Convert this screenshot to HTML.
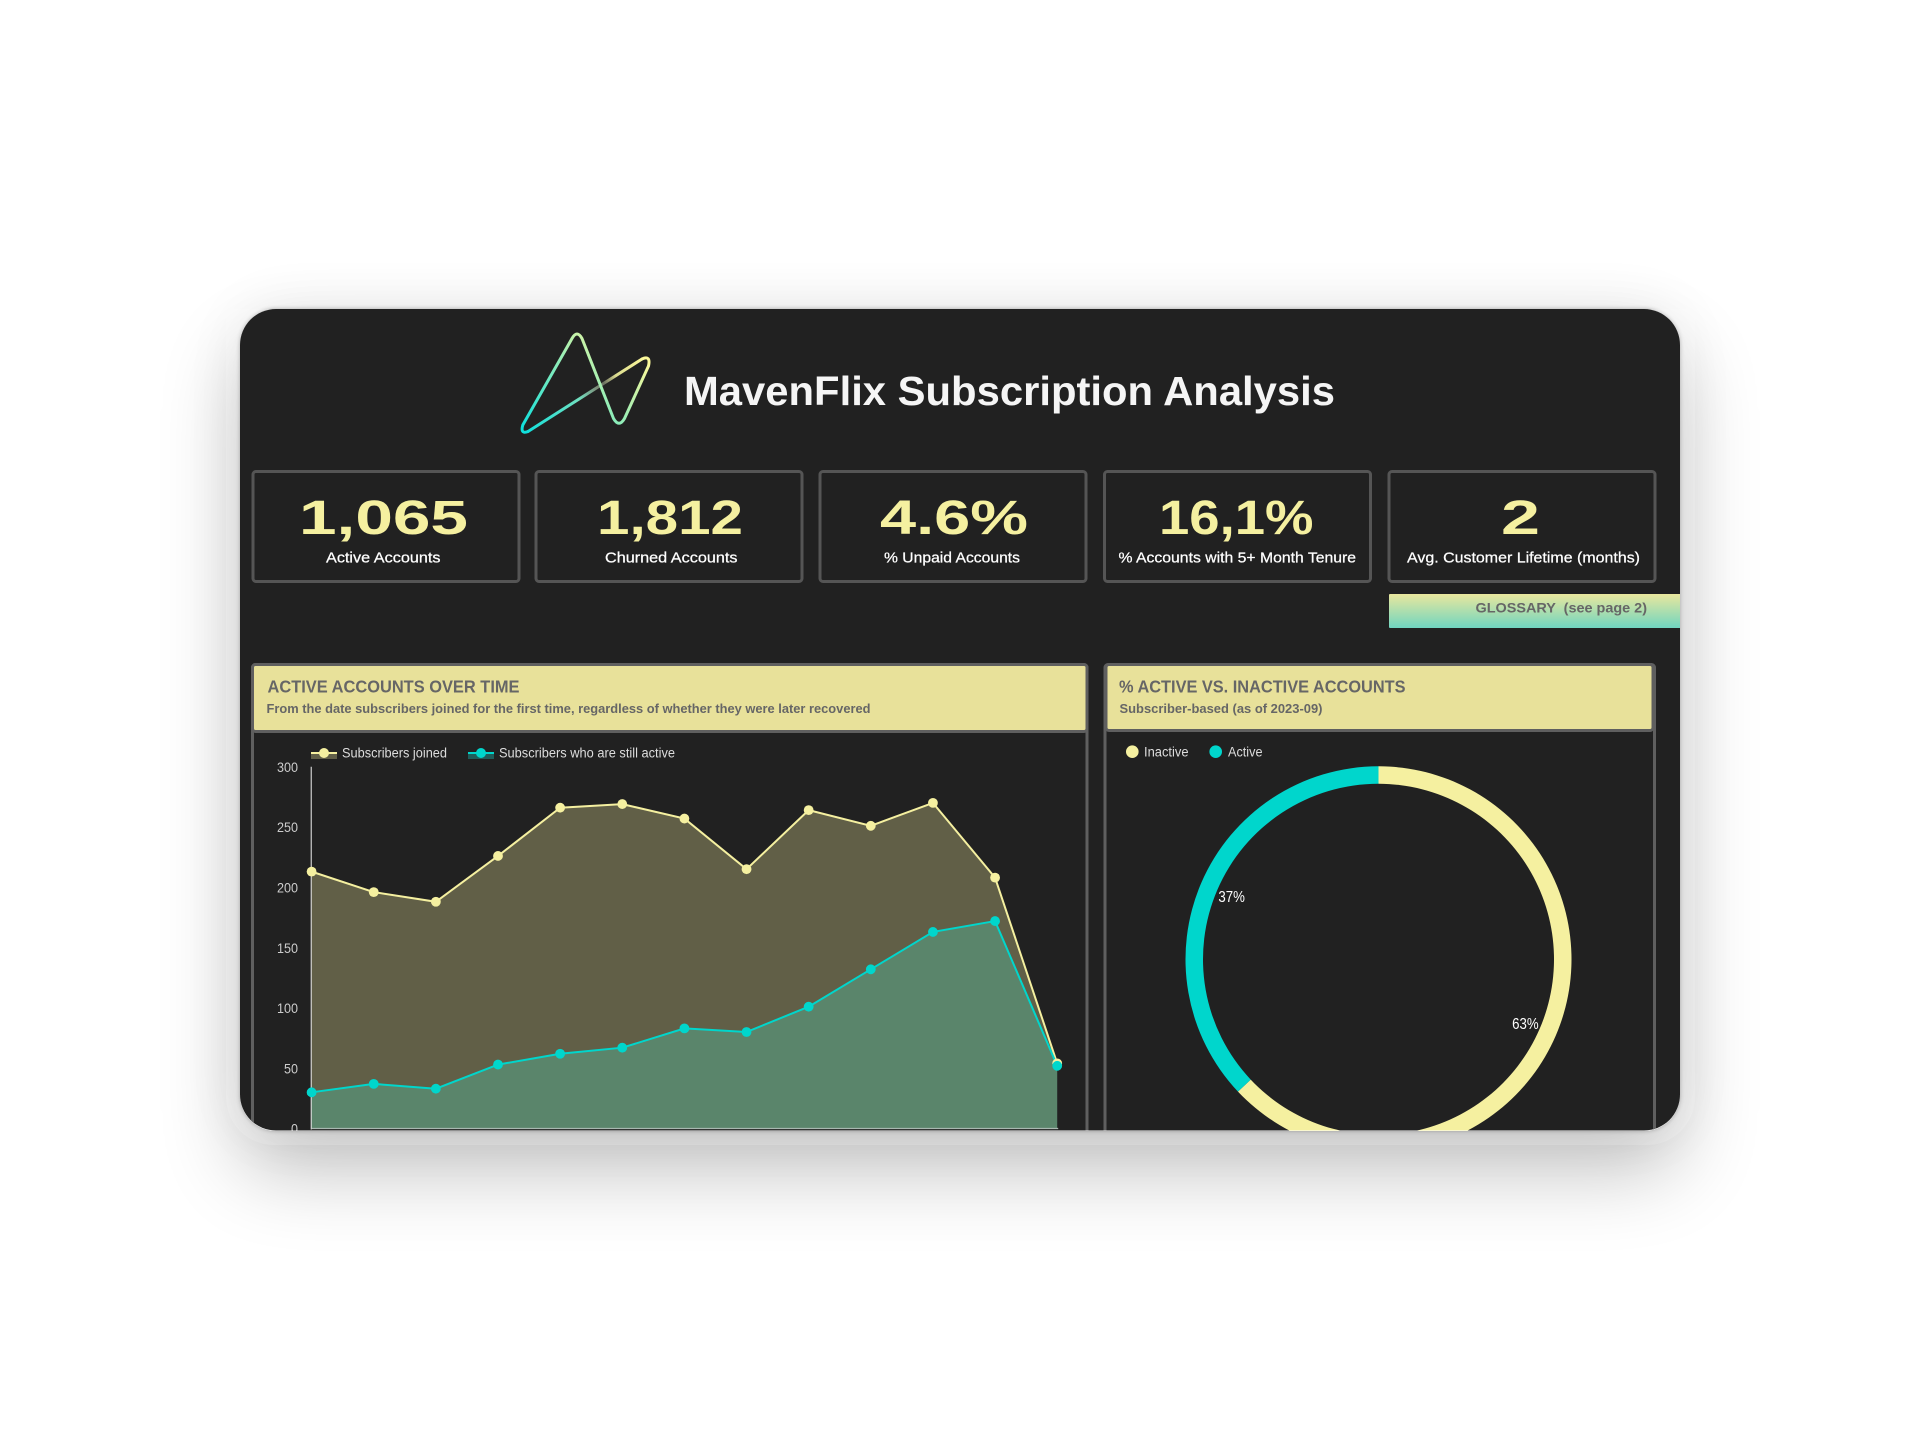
<!DOCTYPE html>
<html lang="en">
<head>
<meta charset="utf-8">
<title>MavenFlix Subscription Analysis</title>
<style>
html,body{margin:0;padding:0;width:1920px;height:1440px;background:#fff;overflow:hidden}
body{position:relative;font-family:"Liberation Sans",sans-serif}
.shadow{position:absolute;left:240px;top:309px;width:1440px;height:822px;border-radius:36px;box-shadow:0 40px 80px rgba(0,0,0,.24),0 0 60px rgba(0,0,0,.07),0 0 4px rgba(0,0,0,.3)}
.frame{position:absolute;left:226px;top:309px;width:1469px;height:836px;border-radius:0 0 48px 48px;background:rgba(255,255,255,.16)}
svg{position:absolute;left:0;top:0}
text{font-family:"Liberation Sans",sans-serif}
.kpi-v{font-size:48px;font-weight:700;fill:#f5f0a0}
.kpi-l{font-size:15px;fill:#fff;stroke:#fff;stroke-width:.25}
.hd{font-size:17.5px;font-weight:700;fill:#666}
.sub{font-size:12.8px;font-weight:700;fill:#666}
.leg{font-size:13.5px;fill:#ddd}
</style>
</head>
<body>
<div class="shadow"></div>
<div class="frame"></div>
<svg id="page" width="1920" height="1440" viewBox="0 0 1920 1440">
  <defs>
    <clipPath id="card-clip"><rect x="240" y="309" width="1440" height="821.5" rx="36" ry="36"/></clipPath>
    <linearGradient id="logo-grad" gradientUnits="userSpaceOnUse" x1="625" y1="340" x2="530" y2="435">
      <stop offset="0" stop-color="#fbf89a"/><stop offset="1" stop-color="#10e0dc"/>
    </linearGradient>
    <linearGradient id="diag-grad" gradientUnits="userSpaceOnUse" x1="525" y1="433" x2="645" y2="358">
      <stop offset="0" stop-color="#10e0dc"/><stop offset=".45" stop-color="#70e0c0"/><stop offset=".6" stop-color="#7d8d78"/><stop offset=".66" stop-color="#6a6f60"/><stop offset=".76" stop-color="#dcdc90"/><stop offset="1" stop-color="#fbf89a"/>
    </linearGradient>
    <linearGradient id="gloss-grad" x1="0" y1="0" x2="0" y2="1">
      <stop offset="0" stop-color="#e9e79d"/><stop offset="1" stop-color="#70d5c0"/>
    </linearGradient>
  </defs>
  <g clip-path="url(#card-clip)">
    <rect x="240" y="309" width="1440" height="822" fill="#212121"/>

    <g fill="none" stroke-width="3" stroke-linejoin="round" stroke-linecap="round">
      <path d="M528 431.5 L642 359" stroke="url(#diag-grad)"/>
      <path d="M642 359 Q651 355 648.5 366 L624.5 418.5 Q619 428 613.5 418.5 L582 338.5 Q577 329.5 572 338.5 L522.8 425 Q520 434.5 528 431.5" stroke="url(#logo-grad)"/>
    </g>
    <text x="684" y="405" font-size="41" font-weight="700" fill="#f5f5f5" textLength="651" lengthAdjust="spacingAndGlyphs">MavenFlix Subscription Analysis</text>

    <g>
      <rect x="253" y="471.5" width="266" height="110" rx="3" fill="none" stroke="#555" stroke-width="3"/>
      <text class="kpi-v" x="299" y="534" textLength="169" lengthAdjust="spacingAndGlyphs">1,065</text>
      <text class="kpi-l" x="326" y="562.5" textLength="114.5" lengthAdjust="spacingAndGlyphs">Active Accounts</text>
    </g>
    <g>
      <rect x="536" y="471.5" width="266" height="110" rx="3" fill="none" stroke="#555" stroke-width="3"/>
      <text class="kpi-v" x="597" y="534" textLength="146" lengthAdjust="spacingAndGlyphs">1,812</text>
      <text class="kpi-l" x="605" y="562.5" textLength="132.5" lengthAdjust="spacingAndGlyphs">Churned Accounts</text>
    </g>
    <g>
      <rect x="820" y="471.5" width="266" height="110" rx="3" fill="none" stroke="#555" stroke-width="3"/>
      <text class="kpi-v" x="880" y="534" textLength="148" lengthAdjust="spacingAndGlyphs">4.6%</text>
      <text class="kpi-l" x="884" y="562.5" textLength="136" lengthAdjust="spacingAndGlyphs">% Unpaid Accounts</text>
    </g>
    <g>
      <rect x="1104.5" y="471.5" width="266" height="110" rx="3" fill="none" stroke="#555" stroke-width="3"/>
      <text class="kpi-v" x="1159" y="534" textLength="154.5" lengthAdjust="spacingAndGlyphs">16,1%</text>
      <text class="kpi-l" x="1118.5" y="562.5" textLength="237.5" lengthAdjust="spacingAndGlyphs">% Accounts with 5+ Month Tenure</text>
    </g>
    <g>
      <rect x="1389" y="471.5" width="266" height="110" rx="3" fill="none" stroke="#555" stroke-width="3"/>
      <text class="kpi-v" x="1501" y="534" textLength="39" lengthAdjust="spacingAndGlyphs">2</text>
      <text class="kpi-l" x="1407" y="562.5" textLength="233" lengthAdjust="spacingAndGlyphs">Avg. Customer Lifetime (months)</text>
    </g>

    <g>
      <rect x="1389" y="594" width="295" height="34" rx="1" fill="url(#gloss-grad)"/>
      <text x="1475.5" y="612.5" font-size="13.7" font-weight="700" fill="#666" textLength="171.5" lengthAdjust="spacingAndGlyphs" xml:space="preserve">GLOSSARY  (see page 2)</text>
    </g>

    <g>
      <rect x="252.5" y="664.5" width="834.5" height="600" rx="3" fill="none" stroke="#5f5f5f" stroke-width="3"/>
      <rect x="252.5" y="664.5" width="834.5" height="67" rx="3" fill="#e8e19a" stroke="#5f5f5f" stroke-width="3"/>
      <text class="hd" x="267.5" y="692.5" textLength="252" lengthAdjust="spacingAndGlyphs">ACTIVE ACCOUNTS OVER TIME</text>
      <text class="sub" x="266.5" y="713" textLength="604" lengthAdjust="spacingAndGlyphs">From the date subscribers joined for the first time, regardless of whether they were later recovered</text>
    </g>
    <g>
      <rect x="1105" y="664.5" width="549.5" height="600" rx="3" fill="none" stroke="#5f5f5f" stroke-width="3"/>
      <rect x="1106" y="664.5" width="547" height="66" rx="3" fill="#e8e19a" stroke="#5f5f5f" stroke-width="3"/>
      <text class="hd" x="1119" y="692.5" textLength="286.5" lengthAdjust="spacingAndGlyphs">% ACTIVE VS. INACTIVE ACCOUNTS</text>
      <text class="sub" x="1119.5" y="713" textLength="203" lengthAdjust="spacingAndGlyphs">Subscriber-based (as of 2023-09)</text>
    </g>

    <g>
      <g>
        <g>
          <rect x="311" y="753" width="26" height="6" fill="#615f48"/>
          <line x1="311" x2="337" y1="753" y2="753" stroke="#f5f0a0" stroke-width="2"/>
          <circle cx="324" cy="753" r="5" fill="#f5f0a0"/>
          <text class="leg" x="342" y="757.5" textLength="105" lengthAdjust="spacingAndGlyphs">Subscribers joined</text>
        </g>
        <g>
          <rect x="468" y="753" width="26" height="6" fill="#1f5d5a"/>
          <line x1="468" x2="494" y1="753" y2="753" stroke="#00d6cc" stroke-width="2"/>
          <circle cx="481" cy="753" r="5" fill="#00d6cc"/>
          <text class="leg" x="499" y="757.5" textLength="176" lengthAdjust="spacingAndGlyphs">Subscribers who are still active</text>
        </g>
      </g>
      <g id="area-plot"></g>
    </g>

    <g>
      <g>
        <g>
          <circle cx="1132.3" cy="751.7" r="6.3" fill="#f5f0a0"/>
          <text class="leg" x="1144" y="756.5" textLength="44.5" lengthAdjust="spacingAndGlyphs">Inactive</text>
        </g>
        <g>
          <circle cx="1215.7" cy="751.7" r="6.3" fill="#00d6cc"/>
          <text class="leg" x="1228" y="756.5" textLength="34.5" lengthAdjust="spacingAndGlyphs">Active</text>
        </g>
      </g>
      <g id="donut-plot"></g>
    </g>
  </g>
</svg>
<script>
const months = ['2022-09','2022-10','2022-11','2022-12','2023-01','2023-02','2023-03','2023-04','2023-05','2023-06','2023-07','2023-08','2023-09'];
const joined = [213,196,188,226,266,269,257,215,264,251,270,208,54];
const stillActive = [30,37,33,53,62,67,83,80,101,132,163,172,52];
const yTicks = [0,50,100,150,200,250,300];
const statusLabels = ['Inactive','Active'];
const statusValues = [1812,1065];

const NS = 'http://www.w3.org/2000/svg';
const YELLOW = '#f5f0a0';
const CYAN = '#00d6cc';
const plotLeft = 311.6, plotRight = 1057.2, plotZero = 1128.5, plotTop = 766.7;

function xScale(i){ return plotLeft + i * (plotRight - plotLeft) / (months.length - 1); }
function yScale(v){ return plotZero - v * (plotZero - plotTop) / 300; }
function mk(tag, attrs, parent){
  const el = document.createElementNS(NS, tag);
  for (const k in attrs) el.setAttribute(k, attrs[k]);
  parent.appendChild(el);
  return el;
}
function linePath(vals){
  return vals.map(function(v, i){ return (i ? 'L' : 'M') + xScale(i).toFixed(2) + ' ' + yScale(v).toFixed(2); }).join(' ');
}
function areaPath(vals){
  return linePath(vals) + ' L' + xScale(vals.length - 1).toFixed(2) + ' ' + plotZero + ' L' + xScale(0).toFixed(2) + ' ' + plotZero + ' Z';
}

const plot = document.getElementById('area-plot');

yTicks.forEach(function(t){
  const s = String(t);
  const label = mk('text', {x: 298, y: yScale(t) + 5.2, 'text-anchor': 'end', 'font-size': 13.5, fill: '#ccc', textLength: s.length * 7, lengthAdjust: 'spacingAndGlyphs'}, plot);
  
  
  label.textContent = s;
});

const areaActive = mk('path', {d: areaPath(stillActive), fill: CYAN, 'fill-opacity': .3}, plot);



const areaJoined = mk('path', {d: areaPath(joined), fill: YELLOW, 'fill-opacity': .3}, plot);



const yAxis = mk('line', {x1: plotLeft - .4, x2: plotLeft - .4, y1: plotTop, y2: plotZero + 1, stroke: '#f0f0f0', 'stroke-width': 1}, plot);



const xAxis = mk('line', {x1: plotLeft, x2: plotRight + 1, y1: plotZero, y2: plotZero, stroke: '#a8b8b0', 'stroke-width': 1.2}, plot);



const lineJoined = mk('path', {d: linePath(joined), fill: 'none', stroke: YELLOW, 'stroke-width': 2}, plot);



const lineActive = mk('path', {d: linePath(stillActive), fill: 'none', stroke: CYAN, 'stroke-width': 2}, plot);



joined.forEach(function(v, i){
  const dot = mk('circle', {cx: xScale(i), cy: yScale(v), r: 4.9, fill: YELLOW}, plot);
  
  
});
stillActive.forEach(function(v, i){
  const dot = mk('circle', {cx: xScale(i), cy: yScale(v), r: 4.9, fill: CYAN}, plot);
  
  
});

const donut = document.getElementById('donut-plot');
const donutCx = 1378.5, donutCy = 959.3, rOuter = 193, rInner = 175.5, labelR = 160;
const sliceColors = [YELLOW, CYAN];
const statusTotal = statusValues.reduce(function(a, b){ return a + b; }, 0);

function polar(r, frac){
  const a = frac * 2 * Math.PI;
  return [donutCx + r * Math.sin(a), donutCy - r * Math.cos(a)];
}
let cumulative = 0;
statusValues.forEach(function(v, i){
  const start = cumulative / statusTotal;
  const end = (cumulative + v) / statusTotal;
  cumulative += v;
  const large = end - start > .5 ? 1 : 0;
  const p1 = polar(rOuter, start), p2 = polar(rOuter, end), p3 = polar(rInner, end), p4 = polar(rInner, start);
  const d = 'M' + p1.join(' ') + ' A' + rOuter + ' ' + rOuter + ' 0 ' + large + ' 1 ' + p2.join(' ') +
            ' L' + p3.join(' ') + ' A' + rInner + ' ' + rInner + ' 0 ' + large + ' 0 ' + p4.join(' ') + ' Z';
  const slice = mk('path', {d: d, fill: sliceColors[i]}, donut);
  
  
  const mid = polar(labelR, (start + end) / 2);
  const text = mk('text', {x: mid[0], y: mid[1] + 6, 'text-anchor': 'middle', 'font-size': 16, fill: '#fff', textLength: 26.5, lengthAdjust: 'spacingAndGlyphs'}, donut);
  
  
  text.textContent = Math.round(v / statusTotal * 100) + '%';
});
</script>
</body>
</html>
